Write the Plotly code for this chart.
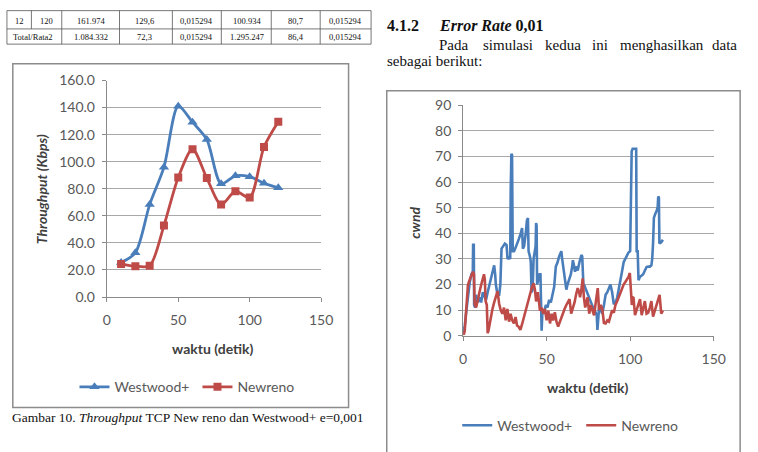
import plotly.graph_objects as go

W, H = 758, 452

# ---------------- data ----------------
# table fragment (top-left)
table_row1 = ["12", "120", "161.974", "129,6", "0,015294", "100.934", "80,7", "0,015294"]
table_row2 = ["Total/Rata2", "1.084.332", "72,3", "0,015294", "1.295.247", "86,4", "0,015294"]

# chart 1: throughput
waktu = [10, 20, 30, 40, 50, 60, 70, 80, 90, 100, 110, 120]
tp_westwood = [25.5, 32.7, 68.3, 96.0, 141.0, 129.2, 116.4, 83.7, 89.6, 88.9, 84.1, 80.7]
tp_newreno = [24.4, 22.8, 23.2, 52.8, 88.4, 109.2, 87.9, 68.3, 78.2, 73.5, 110.9, 129.6]

# chart 2: cwnd
cw_t_westwood = [0, 1, 2, 3, 4, 5, 5.8, 6.0, 6.4, 6.6, 7.2, 7.8, 8.8, 9.8, 10.8, 11.8, 12.8, 13.7,
                 14.7, 15.7, 16.7, 17.6, 18.6, 19.2, 19.6, 20.6, 21.6, 22.3, 23.0, 24.0, 25.0, 26.0,
                 26.6, 27.5, 28.2, 28.5, 28.9, 29.3, 29.7, 30.5, 31.5, 32.5, 33.5, 34.5, 35.3, 35.8,
                 36.5, 37.5, 38.2, 38.8, 39.2, 40.0, 40.5, 41.0, 41.6, 42.2, 42.8, 43.4, 43.7, 44.0,
                 44.3, 45.0, 45.8, 46.3, 46.6, 47.0, 47.5, 48.5, 49.5, 50.5, 51.5, 52.5, 53.5, 54.5,
                 55.5, 56.5, 57.5, 58.3, 58.8, 59.3, 60.3, 60.8, 61.8, 62.5, 63.5, 64.5, 65.3, 65.7,
                 66.2, 67.0, 67.6, 68.6, 69.6, 70.4, 70.8, 71.3, 71.6, 72.0, 72.5, 73.5, 74.5, 75.5,
                 76.5, 77.4, 78.4, 79.4, 80.0, 80.4, 81.0, 81.4, 82.4, 83.3, 84.3, 85.3, 86.3, 87.3,
                 88.2, 89.2, 90.2, 91.2, 92.2, 93.1, 94.1, 95.1, 96.1, 97.1, 98.0, 99.0, 100.0, 100.5,
                 100.9, 101.5, 103.6, 103.9, 104.5, 105.0, 105.9, 106.9, 107.8, 108.8, 109.8, 110.8,
                 111.8, 112.7, 113.2, 113.7, 114.2, 115.0, 116.0, 116.5, 116.8, 117.2, 117.5, 118.6,
                 119.6]
cw_westwood = [1, 4, 10, 17, 21, 24, 25, 35.5, 35.5, 12, 11, 16, 13, 15, 13, 17, 15, 14,
               17, 20, 23, 25, 27.5, 24, 20, 16, 16, 20, 34, 35, 36, 35.5,
               30, 30.5, 30, 57, 71, 70.5, 33, 33, 34.5, 36, 38, 40, 42, 34,
               35, 40, 45, 46, 33, 31, 29, 17, 18, 30, 33, 35, 44, 43,
               20, 22, 24, 24, 16, 2, 10, 9, 12, 11, 14, 13, 16, 19,
               27, 28.6, 31, 32.5, 33, 30, 25, 24, 18, 20, 22, 24, 27, 29.5,
               28, 25, 27, 25.5, 28.6, 30, 31.5, 31, 28, 20, 19.8, 18, 16.6, 15,
               13, 11, 10, 9, 8, 2.3, 6, 11, 10, 8.6, 12, 16, 17, 19,
               20, 17, 12.3, 13, 14.8, 18, 22.4, 25, 28.7, 30, 31, 32.5, 33, 56,
               72, 73, 73, 33, 33, 21.7, 23, 23.5, 24, 25.5, 26.8, 27,
               27, 27.5, 30, 36, 46, 47.5, 49, 50.6, 54.3, 54, 36, 36.5,
               37.5]

cw_t_newreno = [0, 0.5, 1.0, 2.0, 2.9, 4.0, 5.0, 5.9, 6.5, 6.9, 7.8, 8.8, 9.8, 10.8, 11.8, 12.5,
                13.0, 13.5, 14.2, 14.7, 15.2, 16.7, 17.6, 18.6, 19.6, 20.6, 21.6, 22.5, 23.5, 24.5,
                25.5, 26.5, 27.5, 28.4, 29.4, 30.4, 31.4, 32.3, 33.3, 34.3, 35.3, 36.3, 37.3, 38.3,
                39.3, 40.2, 41.2, 42.2, 43.0, 43.7, 44.7, 45.3, 46.0, 47.0, 48.0, 49.0, 50.0, 51.0,
                52.0, 53.0, 53.9, 54.9, 55.9, 56.9, 57.9, 58.8, 59.8, 60.8, 61.8, 62.8, 63.7, 64.7,
                65.7, 66.7, 67.6, 68.6, 69.6, 70.0, 71.0, 71.6, 72.3, 73.1, 73.8, 74.5, 75.5, 76.5,
                77.4, 78.4, 79.4, 80.6, 81.4, 82.4, 83.3, 84.3, 85.3, 86.3, 87.3, 88.2, 89.2, 90.2,
                91.2, 92.2, 93.1, 94.1, 95.1, 96.1, 97.1, 98.0, 99.0, 99.8, 100.5, 101.0, 101.5,
                102.0, 102.9, 103.9, 104.9, 105.9, 106.9, 107.8, 108.8, 109.8, 110.8, 111.8, 112.7,
                113.7, 114.7, 115.7, 116.7, 117.6, 118.6, 119.6]
cw_newreno = [1, 0.5, 2, 9.8, 19.8, 22, 24, 25, 24, 12.3, 11, 14.8, 17, 19.8, 22, 24,
              22, 13.5, 12, 1, 2, 8.5, 10.5, 13, 15.5, 17.4, 12.4, 10, 8.6, 11,
              6, 10.5, 5.5, 8.6, 6, 4.8, 7.3, 4, 3.5, 2.3, 4.5, 7, 9.5, 12,
              14.5, 17, 19, 20.5, 18, 13.4, 17, 14, 9.8, 11, 8.6, 10.5, 6, 9.8,
              4.8, 8.6, 6, 9.2, 5.5, 3.6, 5.5, 7.5, 9, 10.5, 12, 13, 14.3, 8.6,
              10.5, 13, 16, 18.6, 16.5, 15, 19, 22.4, 15, 11, 13, 15, 8.6, 12,
              10, 8, 13, 18.6, 10, 12, 10.5, 5, 4.8, 6, 5.5, 8, 10, 9,
              12, 13.5, 15, 17, 19, 20, 21, 22, 23, 24.5, 14, 12, 15,
              14.8, 8, 10, 12, 14.3, 8, 10.5, 13.5, 8.6, 9, 11, 13.5,
              7.5, 9.5, 12, 14, 16, 8.6, 9.8]

# ---------------- helpers ----------------
def px(x):
    return x / W

def py(y):
    return 1 - y / H

BLUE = "#4a7ebb"
RED = "#be4b48"
GRID = "#a8a8a8"
AXIS = "#8a8a8a"
TICK = "#595959"
TITLE = "#404040"
SANS = "Lato"
SERIF = "Liberation Serif"

fig = go.Figure()

# chart 1 traces
fig.add_trace(go.Scatter(x=waktu, y=tp_westwood, name="Westwood+", mode="lines+markers",
                         line=dict(color=BLUE, width=2.8, shape="spline", smoothing=0.8),
                         marker=dict(symbol="triangle-up", size=9, color=BLUE),
                         xaxis="x", yaxis="y", legend="legend"))
fig.add_trace(go.Scatter(x=waktu, y=tp_newreno, name="Newreno", mode="lines+markers",
                         line=dict(color=RED, width=2.8, shape="spline", smoothing=0.8),
                         marker=dict(symbol="square", size=8, color=RED),
                         xaxis="x", yaxis="y", legend="legend"))

# chart 2 traces
fig.add_trace(go.Scatter(x=cw_t_westwood, y=cw_westwood, name="Westwood+", mode="lines",
                         line=dict(color=BLUE, width=2.6),
                         xaxis="x2", yaxis="y2", legend="legend2"))
fig.add_trace(go.Scatter(x=cw_t_newreno, y=cw_newreno, name="Newreno", mode="lines",
                         line=dict(color=RED, width=2.6),
                         xaxis="x2", yaxis="y2", legend="legend2"))

axis_common = dict(showline=True, linecolor=AXIS, linewidth=1, ticks="outside", ticklen=4,
                   tickcolor=AXIS, zeroline=False, tickfont=dict(family=SANS, size=14, color=TICK),
                   fixedrange=True)

fig.update_layout(
    width=W, height=H,
    margin=dict(l=0, r=0, t=0, b=0),
    paper_bgcolor="white", plot_bgcolor="white",
    xaxis=dict(domain=[px(105), px(324)], range=[0, 150], tickvals=[0, 50, 100, 150],
               showgrid=False, anchor="y", ticklabelstandoff=6, **axis_common),
    yaxis=dict(domain=[py(299.3), py(74.3)], range=[0, 160], dtick=20, tickformat=".1f",
               showgrid=True, gridcolor=GRID, gridwidth=1, anchor="x", ticklabelstandoff=4,
               **axis_common),
    xaxis2=dict(domain=[px(469), px(725)], range=[0, 150], tickvals=[0, 50, 100, 150],
                showgrid=False, anchor="y2", ticklabelstandoff=6, **axis_common),
    yaxis2=dict(domain=[py(339.5), py(100)], range=[0, 90], dtick=10,
                showgrid=True, gridcolor=GRID, gridwidth=1, anchor="x2", ticklabelstandoff=4,
                **axis_common),
    legend=dict(orientation="h", x=px(72), y=py(393), xanchor="left", yanchor="middle",
                font=dict(family=SANS, size=14, color=TICK), bgcolor="rgba(0,0,0,0)",
                entrywidth=78, entrywidthmode="pixels"),
    legend2=dict(orientation="h", x=px(463), y=py(433), xanchor="left", yanchor="middle",
                 font=dict(family=SANS, size=14, color=TICK), bgcolor="rgba(0,0,0,0)",
                 entrywidth=79, entrywidthmode="pixels"),
)

shapes = []
# chart borders
shapes.append(dict(type="rect", xref="paper", yref="paper", x0=px(9), x1=px(352), y0=py(414), y1=py(57),
                   line=dict(color="#8c8c8c", width=1.5), layer="below"))
shapes.append(dict(type="rect", xref="paper", yref="paper", x0=px(391), x1=px(752), y0=py(462), y1=py(85),
                   line=dict(color="#8c8c8c", width=1.5), layer="below"))

# table lines
t_left, t_right = 3, 375
t_top, t_mid, t_bot = 1.7, 20.7, 36.5
for yy in (t_top, t_mid, t_bot):
    shapes.append(dict(type="line", xref="paper", yref="paper", x0=px(t_left), x1=px(t_right),
                       y0=py(yy), y1=py(yy), line=dict(color="#555555", width=0.8)))
for xx in (3, 59, 118, 172, 222, 273, 323, 375):
    shapes.append(dict(type="line", xref="paper", yref="paper", x0=px(xx), x1=px(xx),
                       y0=py(t_top), y1=py(t_bot), line=dict(color="#555555", width=0.8)))
shapes.append(dict(type="line", xref="paper", yref="paper", x0=px(28), x1=px(28),
                   y0=py(t_top), y1=py(t_mid), line=dict(color="#555555", width=0.8)))
fig.update_layout(shapes=shapes)

ann = []
def text(s, x, y, size, family=SERIF, color="#111111", xanchor="center", angle=0):
    ann.append(dict(text=s, x=px(x), y=py(y), xref="paper", yref="paper", showarrow=False,
                    xanchor=xanchor, yanchor="middle", textangle=angle, borderpad=0,
                    font=dict(family=family, size=size, color=color)))

# table texts
row1_x = [15.5, 43, 89, 144, 197, 248, 298, 349]
for s, x in zip(table_row1, row1_x):
    text(s, x, 12.5, 8.5)
row2_x = [30, 89, 144, 197, 248, 298, 349]
for s, x in zip(table_row2, row2_x):
    text(s, x, 29, 8.5)

# heading & paragraph
text("<b>4.1.2</b>", 390, 17, 16, xanchor="left")
text("<b><i>Error Rate</i> 0,01</b>", 443, 17, 16, xanchor="left")
words = ["Pada", "simulasi", "kedua", "ini", "menghasilkan", "data"]
word_x = [443, 488, 552, 600, 628, 722]
for w_, x in zip(words, word_x):
    text(w_, x, 37, 15, xanchor="left")
text("sebagai berikut:", 390, 54.5, 15, xanchor="left")

# caption
text("Gambar 10. <i>Throughput</i> TCP New reno dan Westwood+ e=0,001", 187.5, 424, 13.5)

# axis titles
text("<b><i>Throughput (Kbps)</i></b>", 39, 187, 14, family=SANS, color=TITLE, angle=-90)
text("<b>waktu (detik)</b>", 213, 353, 14, family=SANS, color=TITLE)
text("<b><i>cwnd</i></b>", 420, 222, 14, family=SANS, color=TITLE, angle=-90)
text("<b>waktu (detik)</b>", 597, 393, 14, family=SANS, color=TITLE)

fig.update_layout(annotations=ann)

fig.write_html("out.html")
